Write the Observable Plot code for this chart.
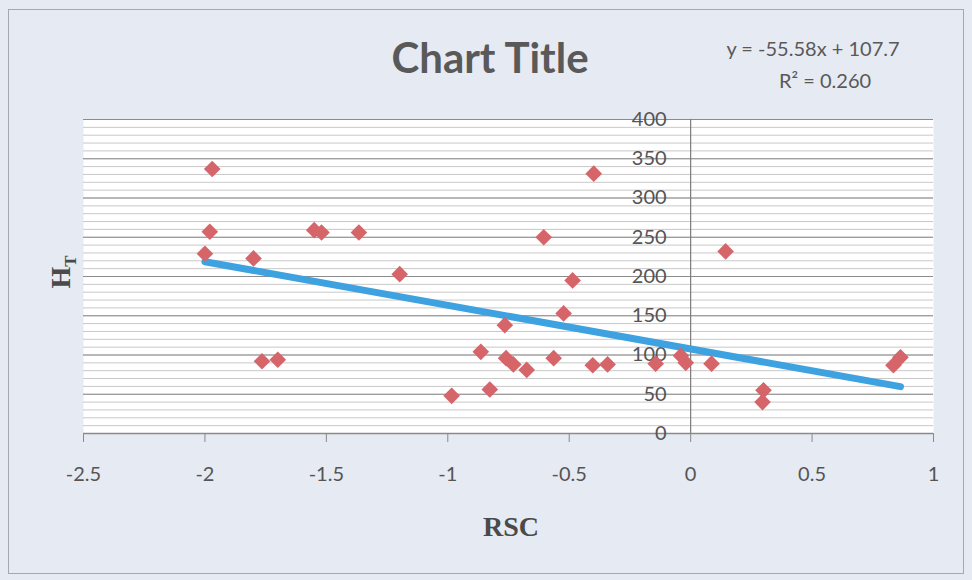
<!DOCTYPE html>
<html>
<head>
<meta charset="utf-8">
<script src="https://cdn.jsdelivr.net/npm/d3@7"></script>
<script src="https://cdn.jsdelivr.net/npm/@observablehq/plot@0.6"></script>
<style>
  html, body { margin: 0; padding: 0; background: #e6eaf2; }
  #chart { position: relative; width: 972px; height: 580px; background: #e6eaf2; overflow: hidden; }
  #chart .frame { position: absolute; left: 8px; top: 9px; width: 956px; height: 565px; border: 1px solid #a3a8b2; box-sizing: border-box; }
  #chart .txt { position: absolute; white-space: nowrap; color: #595959; font-family: Lato, "Open Sans", sans-serif; }
  #chart svg { position: absolute; left: 0; top: 0; }
</style>
</head>
<body>
<div id="chart">
  <div class="frame"></div>
</div>
<script>
// RSC (x) and H_T (y) observations
const rsc = [-1.97, -1.98, -2.0, -1.80, -1.765, -1.70, -1.55, -1.52, -1.366, -1.198,
             -0.984, -0.864, -0.827, -0.765, -0.76, -0.73, -0.675, -0.605, -0.564, -0.523,
             -0.486, -0.399, -0.403, -0.342, -0.144, -0.04, -0.02, 0.086, 0.144, 0.30,
             0.296, 0.835, 0.864];
const ht  = [337, 257, 229, 223, 92, 94, 259, 256, 256, 203,
             48, 104, 56, 138, 96, 88, 81, 250, 96, 153,
             195, 331, 87, 88, 89, 99, 90, 89, 232, 55,
             40, 87, 97];

// Linear trendline as reported
const slope = -55.58;
const intercept = 107.7;
const equationText = "y = -55.58x + 107.7";
const r2Text = "R² = 0.260";

// Axis ticks
const xTicks = [-2.5, -2, -1.5, -1, -0.5, 0, 0.5, 1];
const yTicks = [0, 50, 100, 150, 200, 250, 300, 350, 400];
const yMinor = d3.range(0, 401, 10);

const points = rsc.map((x, i) => ({x, y: ht[i]}));
const xExtent = d3.extent(rsc);
const trend = xExtent.map(x => ({x, y: slope * x + intercept}));

const font = "Lato, 'Open Sans', sans-serif";
const tickFont = 20;

const plot = Plot.plot({
  width: 972,
  height: 580,
  marginLeft: 83,
  marginRight: 39,
  marginTop: 119,
  marginBottom: 147,
  style: {background: "transparent", fontFamily: font, fontSize: tickFont + "px", color: "#595959"},
  x: {domain: [-2.5, 1]},
  y: {domain: [0, 400]},
  marks: [
    Plot.frame({fill: "white", stroke: null}),
    Plot.ruleY(yMinor, {stroke: "#c8c8c8", strokeWidth: 1}),
    Plot.ruleY(yTicks, {stroke: "#8c8c8c", strokeWidth: 1.2}),
    Plot.ruleX([0], {stroke: "#7a7a7a", strokeWidth: 1.2}),
    Plot.ruleY([0], {stroke: "#8a8a8a", strokeWidth: 1.5}),
    Plot.axisX({ticks: xTicks, tickSize: 9, tickPadding: 24, tickFormat: d => String(d), stroke: "#8a8a8a", fill: "#555555", fontSize: tickFont, label: null}),
    Plot.axisY({ticks: [], label: null}),
    Plot.text(yTicks, {x: 0, y: d => d, text: d => String(d), textAnchor: "end", dx: -24, fill: "#555555", fontSize: tickFont}),
    Plot.line(trend, {x: "x", y: "y", stroke: "#3fa2e0", strokeWidth: 7}),
    Plot.dot(points, {x: "x", y: "y", symbol: "diamond2", r: 7.5, fill: "#d6656a", stroke: null})
  ]
});
document.getElementById("chart").appendChild(plot);

// Title, trendline label and axis titles
const chart = document.getElementById("chart");
function addText(html, css) {
  const el = document.createElement("div");
  el.className = "txt";
  el.innerHTML = html;
  Object.assign(el.style, css);
  chart.appendChild(el);
  return el;
}
addText("Chart Title", {left: "490px", top: "57px", transform: "translate(-50%,-50%)", fontSize: "42px", fontWeight: "bold"});
addText(equationText, {left: "813px", top: "48px", transform: "translate(-50%,-50%)", fontSize: "20px"});
addText(r2Text, {left: "825px", top: "80px", transform: "translate(-50%,-50%)", fontSize: "20px"});
addText("RSC", {left: "511px", top: "527px", transform: "translate(-50%,-50%)", fontSize: "28px", fontWeight: "bold", fontFamily: "'Liberation Serif', 'DejaVu Serif', serif", color: "#4a4a4a"});
addText("H<sub style='font-size:17px'>T</sub>", {left: "63px", top: "272px", transform: "translate(-50%,-50%) rotate(-90deg)", fontSize: "28px", fontWeight: "bold", fontFamily: "'Liberation Serif', 'DejaVu Serif', serif", color: "#4a4a4a"});
</script>
</body>
</html>
